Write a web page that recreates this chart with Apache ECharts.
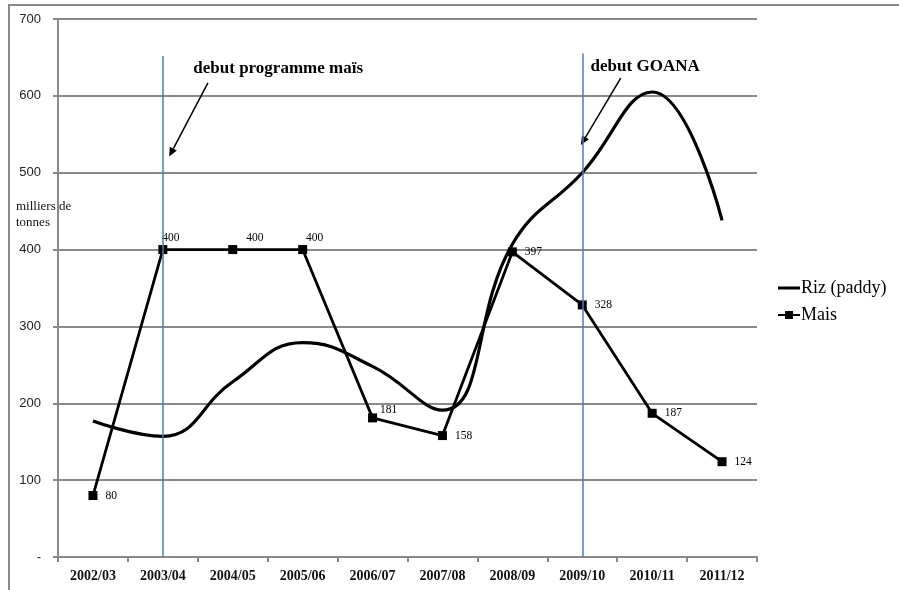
<!DOCTYPE html>
<html>
<head>
<meta charset="utf-8">
<script src="https://cdn.jsdelivr.net/npm/echarts@6/dist/echarts.min.js"></script>
<style>
  html, body { margin: 0; padding: 0; background: #fff; }
  #chart { width: 899px; height: 590px; }
</style>
</head>
<body>
<div id="chart"></div>
<script>
// Campaigns (x axis)
const campagnes = ['2002/03', '2003/04', '2004/05', '2005/06', '2006/07', '2007/08', '2008/09', '2009/10', '2010/11', '2011/12'];
// Production, milliers de tonnes
const riz = [177, 157, 228, 279, 248, 191, 407, 500, 605, 438];
const mais = [80, 400, 400, 400, 181, 158, 397, 328, 187, 124];
// Y axis range
const yMin = 0, yMax = 700, yStep = 100;

const serif = '"Liberation Serif", "Times New Roman", serif';
const gray = '#8a8a8a';

// Per-point label placement for the maize values
const maisLabels = mais.map((v, i) => {
  const item = { value: v };
  if (i >= 1 && i <= 3) {
    const dx = [0, 8, 22, 12][i];
    item.label = { position: 'top', offset: [dx, 3], distance: 4 };
  } else if (i === 4) {
    item.label = { position: 'right', offset: [0, -8], distance: 3 };
  }
  return item;
});

const chart = echarts.init(document.getElementById('chart'), null, { renderer: 'canvas' });

chart.setOption({
  animation: false,
  backgroundColor: '#fff',
  grid: { left: 58, right: 142, top: 19, bottom: 33 },
  legend: {
    orient: 'vertical',
    left: 772,
    top: 274,
    itemWidth: 22,
    itemHeight: 10,
    itemGap: 9,
    data: [
      { name: 'Riz (paddy)', icon: 'path://M0,0H22V3H0Z' },
      { name: 'Mais' }
    ],
    textStyle: { fontFamily: serif, fontSize: 18, color: '#000', padding: [0, 0, 0, -4] }
  },
  xAxis: {
    type: 'category',
    data: campagnes,
    boundaryGap: true,
    axisLine: { lineStyle: { color: gray, width: 2 } },
    axisTick: { show: true, length: 5, lineStyle: { color: gray, width: 2 } },
    axisLabel: { interval: 0, margin: 12, fontFamily: serif, fontWeight: 'bold', fontSize: 14, color: '#111' }
  },
  yAxis: {
    type: 'value',
    min: yMin,
    max: yMax,
    interval: yStep,
    axisLine: { show: true, lineStyle: { color: gray, width: 2 } },
    axisTick: { show: true, length: 5, lineStyle: { color: gray, width: 2 } },
    splitLine: { lineStyle: { color: gray, width: 2 } },
    axisLabel: {
      margin: 17,
      fontFamily: '"Liberation Sans", Arial, sans-serif',
      fontSize: 13,
      color: '#222',
      formatter: v => (v === 0 ? '-' : String(v))
    }
  },
  series: [
    {
      name: 'Riz (paddy)',
      type: 'line',
      data: riz,
      smooth: 0.45,
      symbol: 'none',
      z: 3,
      lineStyle: { color: '#000', width: 3.2 },
      itemStyle: { color: '#000' }
    },
    {
      name: 'Mais',
      type: 'line',
      data: maisLabels,
      symbol: 'rect',
      symbolSize: 9,
      z: 4,
      lineStyle: { color: '#000', width: 2.8 },
      itemStyle: { color: '#000' },
      label: {
        show: true,
        position: 'right',
        distance: 8,
        fontFamily: serif,
        fontSize: 11.5,
        color: '#000'
      },
      markLine: {
        silent: true,
        symbol: ['none', 'none'],
        label: { show: false },
        lineStyle: { color: '#4a7ebb', width: 1.5, type: 'solid' },
        data: [
          [{ coord: ['2003/04', 652] }, { coord: ['2003/04', 0] }],
          [{ coord: ['2009/10', 655] }, { coord: ['2009/10', 0] }]
        ]
      }
    }
  ]
});

// Map a (fractional category index, value) pair to pixels
function px(idx, val) {
  const n = campagnes.length;
  const i0 = Math.max(0, Math.min(n - 2, Math.floor(idx)));
  const p0 = chart.convertToPixel({ gridIndex: 0 }, [i0, val]);
  const p1 = chart.convertToPixel({ gridIndex: 0 }, [i0 + 1, val]);
  return [p0[0] + (p1[0] - p0[0]) * (idx - i0), p0[1]];
}

function arrow(from, to) {
  const a = px(from[0], from[1]);
  const b = px(to[0], to[1]);
  const ang = Math.atan2(b[1] - a[1], b[0] - a[0]);
  const len = 9, half = 4;
  const bx = b[0] - len * Math.cos(ang), by = b[1] - len * Math.sin(ang);
  const nx = -Math.sin(ang) * half, ny = Math.cos(ang) * half;
  return [
    { type: 'line', shape: { x1: a[0], y1: a[1], x2: bx, y2: by }, style: { stroke: '#000', lineWidth: 1.5 } },
    { type: 'polygon', shape: { points: [[b[0], b[1]], [bx + nx, by + ny], [bx - nx, by - ny]] }, style: { fill: '#000' } }
  ];
}

function note(text, at) {
  const p = px(at[0], at[1]);
  return {
    type: 'text', x: p[0], y: p[1],
    style: { text: text, font: 'bold 17px ' + serif, fill: '#000', align: 'center', verticalAlign: 'middle' }
  };
}

const graphics = [
  // chart frame
  { type: 'line', shape: { x1: 8, y1: 5, x2: 899, y2: 5 }, style: { stroke: gray, lineWidth: 2 } },
  { type: 'line', shape: { x1: 9, y1: 5, x2: 9, y2: 590 }, style: { stroke: gray, lineWidth: 2 } },
  // unit label
  {
    type: 'text', x: 16, y: 199,
    style: { text: 'milliers de\ntonnes', font: '13px ' + serif, fill: '#111', lineHeight: 16 }
  },
  note('debut programme maïs', [2.65, 635]),
  note('debut GOANA', [7.9, 638]),
  ...arrow([1.645, 617], [1.09, 521]),
  ...arrow([7.55, 623], [6.98, 536])
];

chart.setOption({ graphic: graphics });
</script>
</body>
</html>
